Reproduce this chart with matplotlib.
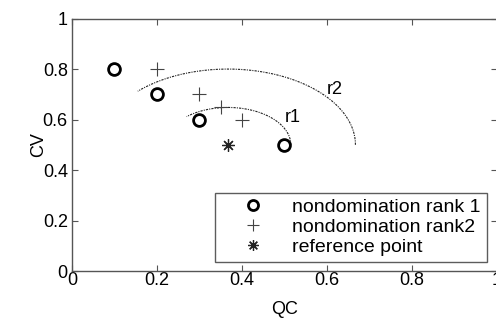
import numpy as np
import matplotlib
matplotlib.use("Agg")
import matplotlib.pyplot as plt

plt.rcParams['font.family'] = ['Liberation Sans', 'DejaVu Sans']

# data
rank1_qc = [0.1, 0.2, 0.3, 0.5]
rank1_cv = [0.8, 0.7, 0.6, 0.5]
rank2_qc = [0.2, 0.3, 0.35, 0.4]
rank2_cv = [0.8, 0.7, 0.65, 0.6]
ref_qc = [0.367]
ref_cv = [0.5]
radii = [0.148, 0.3]
radius_names = ['r1', 'r2']
arc_end_deg = [131, 135]

fig = plt.figure(figsize=(4.96, 3.2), dpi=100)
ax = fig.add_axes([0.145, 0.153, 0.857, 0.789])

# arcs round the reference point
for r, end in zip(radii, arc_end_deg):
    t = np.radians(np.linspace(0, end, 200))
    ax.plot(ref_qc[0] + r * np.cos(t), ref_cv[0] + r * np.sin(t),
            linestyle=(0, (2, 1, 1, 1)), color='#222222', linewidth=0.8)

ax.plot(rank1_qc, rank1_cv, 'o', markersize=8.5, markerfacecolor='none',
        markeredgecolor='black', markeredgewidth=2, label='nondomination rank 1')
ax.plot(rank2_qc, rank2_cv, '+', markersize=10, color='#444444',
        markeredgewidth=0.8, label='nondomination rank2')
ax.plot(ref_qc, ref_cv, marker=(8, 2, 0), linestyle='none', markersize=9,
        color='#222222', markeredgewidth=0.9, label='reference point')

ax.text(0.50, 0.61, radius_names[0], fontsize=13, va='center')
ax.text(0.60, 0.72, radius_names[1], fontsize=13, va='center')

ax.set_xlim(0, 1)
ax.set_ylim(0, 1)
ax.set_xticks([0, 0.2, 0.4, 0.6, 0.8, 1])
ax.set_xticklabels(['0', '0.2', '0.4', '0.6', '0.8', '1'])
ax.set_yticks([0, 0.2, 0.4, 0.6, 0.8, 1])
ax.set_yticklabels(['0', '0.2', '0.4', '0.6', '0.8', '1'])
ax.tick_params(direction='in', top=True, right=True, labelsize=13, length=4,
               color='#555555', width=0.8)
ax.tick_params(axis='x', pad=1)
ax.tick_params(axis='y', pad=3)
for s in ax.spines.values():
    s.set_color('#555555')
    s.set_linewidth(1.0)
ax.set_xlabel('QC', fontsize=13, labelpad=8)
ax.set_ylabel('CV', fontsize=13, labelpad=-3)

leg = ax.legend(loc='lower right', bbox_to_anchor=(0.976, 0.036),
                borderaxespad=0, fontsize=14, markerscale=0.85,
                frameon=True, fancybox=False, edgecolor='#333333',
                handletextpad=0.4, borderpad=0.3, labelspacing=0.12,
                handlelength=3.3)
leg.get_frame().set_linewidth(1.0)

fig.savefig('out.png', dpi=100)
